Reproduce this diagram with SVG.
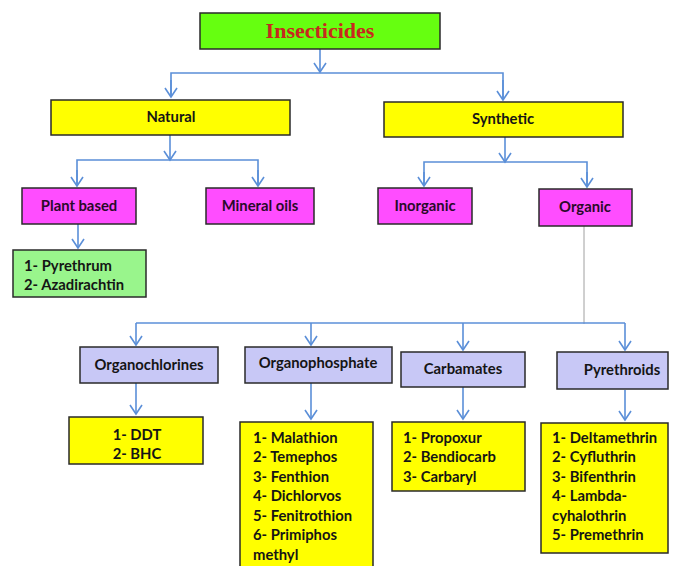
<svg xmlns="http://www.w3.org/2000/svg" width="675" height="566" viewBox="0 0 675 566">
<style>
.box{stroke:#2a2a2a;stroke-width:1.5}
.g{fill:#66ff10}
.y{fill:#ffff00}
.m{fill:#ff4dff}
.lg{fill:#99f58c}
.lv{fill:#c8c8f6}
.t{font-family:Lato,"Liberation Sans",sans-serif;font-weight:bold;font-size:14.8px;fill:#151515}
.tm{fill:#2a0a2a}
.c{text-anchor:middle}
.conn{stroke:#5b8fd8;stroke-width:1.6;fill:none}
.gray{stroke:#a0a0a0;stroke-width:1;fill:none}
</style>
<defs>
<marker id="ah" markerUnits="userSpaceOnUse" markerWidth="12" markerHeight="14" viewBox="0 0 12 14" refX="10" refY="7" orient="auto">
<path d="M1,1 L10,7 L1,13" fill="none" stroke="#5b8fd8" stroke-width="1.6"/>
</marker>
</defs>
<rect width="675" height="566" fill="#ffffff"/>
<g id="connectors">
<line class="conn" x1="320" y1="49" x2="320" y2="72" marker-end="url(#ah)"/>
<polyline class="conn" points="171,97 171,73 503,73 503,99"/>
<line class="conn" x1="171" y1="80" x2="171" y2="97" marker-end="url(#ah)"/>
<line class="conn" x1="503" y1="80" x2="503" y2="100" marker-end="url(#ah)"/>
<line class="conn" x1="170" y1="135" x2="170" y2="160" marker-end="url(#ah)"/>
<polyline class="conn" points="77,186 77,160 258,160 258,186"/>
<line class="conn" x1="77" y1="170" x2="77" y2="186" marker-end="url(#ah)"/>
<line class="conn" x1="258" y1="170" x2="258" y2="186" marker-end="url(#ah)"/>
<line class="conn" x1="505" y1="137" x2="505" y2="162" marker-end="url(#ah)"/>
<polyline class="conn" points="424,186 424,162 587,162 587,187"/>
<line class="conn" x1="424" y1="172" x2="424" y2="186" marker-end="url(#ah)"/>
<line class="conn" x1="587" y1="172" x2="587" y2="187" marker-end="url(#ah)"/>
<line class="conn" x1="78" y1="224" x2="78" y2="248" marker-end="url(#ah)"/>
<line class="gray" x1="584" y1="226" x2="584" y2="324"/>
<line class="conn" x1="136" y1="323" x2="625" y2="323"/>
<line class="conn" x1="136" y1="323" x2="136" y2="345" marker-end="url(#ah)"/>
<line class="conn" x1="311" y1="323" x2="311" y2="345" marker-end="url(#ah)"/>
<line class="conn" x1="463" y1="323" x2="463" y2="350" marker-end="url(#ah)"/>
<line class="conn" x1="625" y1="323" x2="625" y2="350" marker-end="url(#ah)"/>
<line class="conn" x1="136" y1="383" x2="136" y2="414" marker-end="url(#ah)"/>
<line class="conn" x1="311" y1="383" x2="311" y2="419" marker-end="url(#ah)"/>
<line class="conn" x1="463" y1="387" x2="463" y2="419" marker-end="url(#ah)"/>
<line class="conn" x1="625" y1="390" x2="625" y2="420" marker-end="url(#ah)"/>
</g>
<g id="insecticides">
<rect class="box g" x="200" y="13" width="240" height="36"/>
<text x="320" y="38" text-anchor="middle" font-family="'Liberation Serif',serif" font-weight="bold" font-size="22" fill="#c8281e">Insecticides</text>
</g>
<g id="natural">
<rect class="box y" x="51" y="100" width="239" height="35"/>
<text class="t c" x="171" y="122">Natural</text>
</g>
<g id="synthetic">
<rect class="box y" x="384" y="102" width="239" height="35"/>
<text class="t c" x="503" y="124">Synthetic</text>
</g>
<g id="plant-based">
<rect class="box m" x="22" y="188" width="114" height="36"/>
<text class="t tm c" x="79" y="211">Plant based</text>
</g>
<g id="mineral-oils">
<rect class="box m" x="206" y="188" width="108" height="36"/>
<text class="t tm c" x="260" y="211">Mineral oils</text>
</g>
<g id="inorganic">
<rect class="box m" x="378" y="188" width="94" height="36"/>
<text class="t tm c" x="425" y="211">Inorganic</text>
</g>
<g id="organic">
<rect class="box m" x="539" y="189" width="93" height="37"/>
<text class="t tm c" x="585" y="212">Organic</text>
</g>
<g id="plant-list">
<rect class="box lg" x="13" y="250" width="133" height="47"/>
<text class="t" x="24" y="271">1- Pyrethrum</text>
<text class="t" x="24" y="290">2- Azadirachtin</text>
</g>
<g id="organochlorines">
<rect class="box lv" x="80" y="347" width="138" height="36"/>
<text class="t c" x="149" y="370">Organochlorines</text>
</g>
<g id="organophosphate">
<rect class="box lv" x="245" y="347" width="147" height="36"/>
<text class="t c" x="318" y="368">Organophosphate</text>
</g>
<g id="carbamates">
<rect class="box lv" x="401" y="352" width="124" height="35"/>
<text class="t c" x="463" y="374">Carbamates</text>
</g>
<g id="pyrethroids">
<rect class="box lv" x="557" y="352" width="111" height="37"/>
<text class="t c" x="622" y="375">Pyrethroids</text>
</g>
<g id="organochlorine-list">
<rect class="box y" x="69" y="417" width="134" height="47"/>
<text class="t c" x="137" y="440">1- DDT</text>
<text class="t c" x="137" y="459">2- BHC</text>
</g>
<g id="organophosphate-list">
<rect class="box y" x="240" y="422" width="133" height="148"/>
<text class="t" x="253" y="443">1- Malathion</text>
<text class="t" x="253" y="462">2- Temephos</text>
<text class="t" x="253" y="482">3- Fenthion</text>
<text class="t" x="253" y="501">4- Dichlorvos</text>
<text class="t" x="253" y="521">5- Fenitrothion</text>
<text class="t" x="253" y="540">6- Primiphos</text>
<text class="t" x="253" y="560">methyl</text>
</g>
<g id="carbamate-list">
<rect class="box y" x="392" y="422" width="133" height="69"/>
<text class="t" x="403" y="443">1- Propoxur</text>
<text class="t" x="403" y="462">2- Bendiocarb</text>
<text class="t" x="403" y="482">3- Carbaryl</text>
</g>
<g id="pyrethroid-list">
<rect class="box y" x="541" y="423" width="127" height="130"/>
<text class="t" x="552" y="443">1- Deltamethrin</text>
<text class="t" x="552" y="462">2- Cyfluthrin</text>
<text class="t" x="552" y="482">3- Bifenthrin</text>
<text class="t" x="552" y="501">4- Lambda-</text>
<text class="t" x="552" y="521">cyhalothrin</text>
<text class="t" x="552" y="540">5- Premethrin</text>
</g>
</svg>
